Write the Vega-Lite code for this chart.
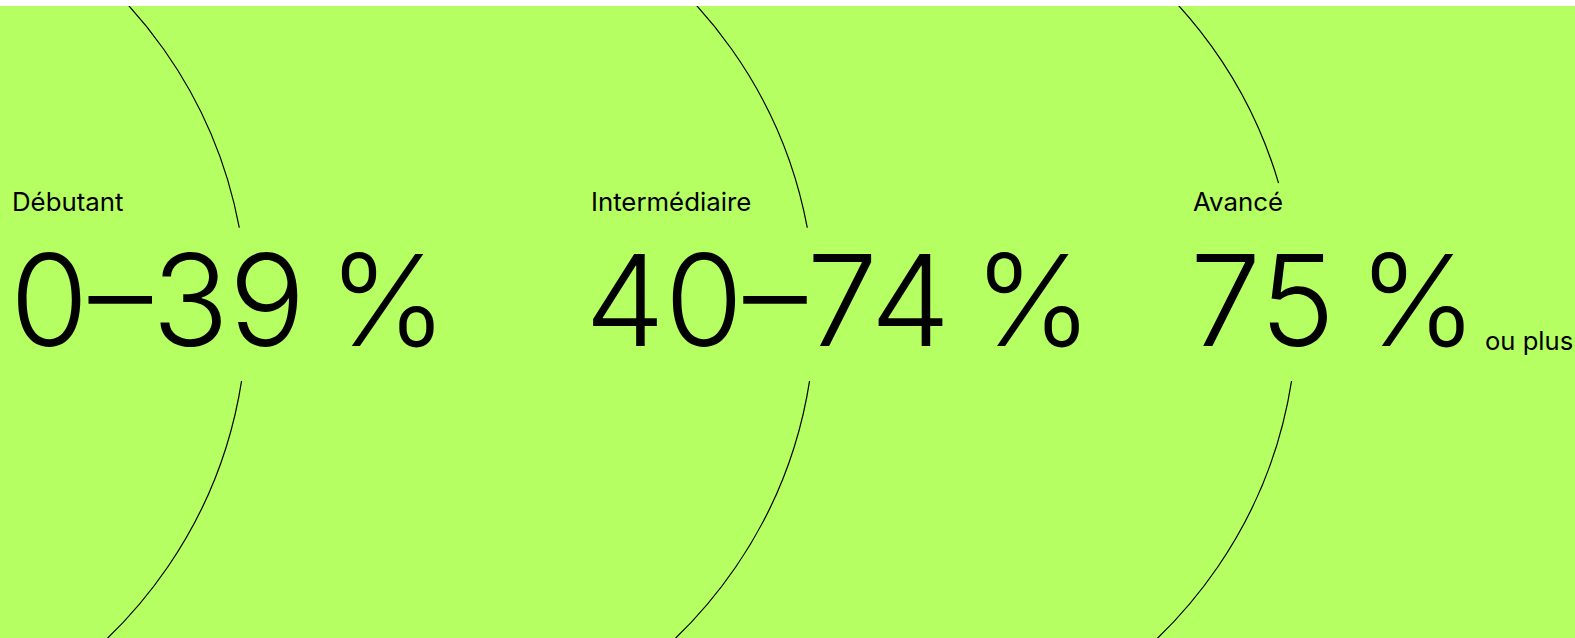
{
  "$schema": "https://vega.github.io/schema/vega-lite/v6.json",
  "autosize": {"type": "fit", "contains": "padding"},
  "width": 1575,
  "height": 638,
  "padding": {"left": 0, "right": 0, "top": 6, "bottom": 0},
  "background": "#ffffff",
  "config": {"view": {"fill": "#b5ff63", "stroke": null}, "font": "Inter"},
  "datasets": {
    "arcs": [
      {"level": "Débutant", "cx": -206, "cy": 311, "r": 453, "a0": 30, "a1": 79.4},
      {"level": "Débutant", "cx": -206, "cy": 311, "r": 453, "a0": 98.9, "a1": 150},
      {"level": "Intermédiaire", "cx": 362, "cy": 311, "r": 453, "a0": 30, "a1": 79.4},
      {"level": "Intermédiaire", "cx": 362, "cy": 311, "r": 453, "a0": 98.9, "a1": 150},
      {"level": "Avancé", "cx": 844, "cy": 311, "r": 453, "a0": 30, "a1": 73.6},
      {"level": "Avancé", "cx": 844, "cy": 311, "r": 453, "a0": 98.9, "a1": 150}
    ],
    "labels": [
      {"level": "Débutant", "x": 12, "y": 211, "range": "0–39\u202f%", "rx": 10, "ry": 346},
      {"level": "Intermédiaire", "x": 591, "y": 211, "range": "40–74\u202f%", "rx": 585, "ry": 346},
      {"level": "Avancé", "x": 1193, "y": 211, "range": "75\u202f%", "rx": 1190, "ry": 346}
    ],
    "suffix": [
      {"text": "ou plus", "x": 1485, "y": 350}
    ]
  },
  "layer": [
    {
      "data": {"name": "arcs"},
      "mark": {"type": "arc", "filled": false, "stroke": "#000000", "strokeWidth": 1.2, "clip": true},
      "encoding": {
        "x": {"field": "cx", "type": "quantitative", "scale": {"domain": [0, 1575], "nice": false, "zero": false}, "axis": null},
        "y": {"field": "cy", "type": "quantitative", "scale": {"domain": [6, 638], "nice": false, "zero": false, "reverse": true}, "axis": null},
        "radius": {"field": "r", "type": "quantitative", "scale": {"type": "linear", "domain": [0, 1575], "range": [0, 1575], "zero": true}, "legend": null},
        "radius2": {"field": "r"},
        "theta": {"field": "a0", "type": "quantitative", "stack": null, "scale": {"domain": [0, 360], "range": [0, 6.283185307]}},
        "theta2": {"field": "a1"}
      }
    },
    {
      "data": {"name": "labels"},
      "mark": {"type": "text", "align": "left", "baseline": "alphabetic", "fontSize": 25.8, "color": "#000000", "font": "Inter"},
      "encoding": {
        "x": {"field": "x", "type": "quantitative"},
        "y": {"field": "y", "type": "quantitative"},
        "text": {"field": "level"}
      }
    },
    {
      "data": {"name": "labels"},
      "mark": {"type": "text", "align": "left", "baseline": "alphabetic", "fontSize": 127, "fontWeight": 350, "color": "#000000", "font": "Inter"},
      "encoding": {
        "x": {"field": "rx", "type": "quantitative"},
        "y": {"field": "ry", "type": "quantitative"},
        "text": {"field": "range"}
      }
    },
    {
      "data": {"name": "suffix"},
      "mark": {"type": "text", "align": "left", "baseline": "alphabetic", "fontSize": 25.6, "color": "#000000", "font": "Inter"},
      "encoding": {
        "x": {"field": "x", "type": "quantitative"},
        "y": {"field": "y", "type": "quantitative"},
        "text": {"field": "text"}
      }
    }
  ]
}
